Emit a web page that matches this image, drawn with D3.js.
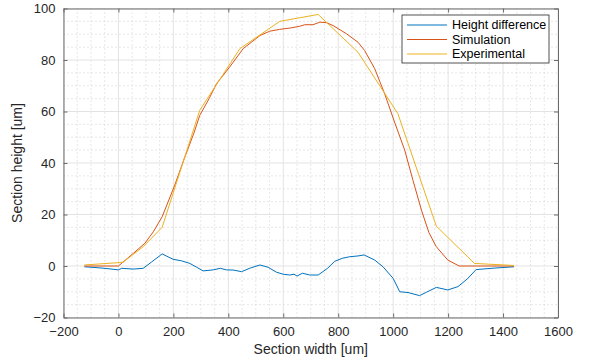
<!DOCTYPE html>
<html lang="en">
<head>
<meta charset="utf-8">
<script src="https://d3js.org/d3.v7.min.js"></script>
<style>
  body { margin: 0; background: #fff; }
  text { font-family: "Liberation Sans", Arial, sans-serif; }
</style>
</head>
<body>
<div id="chart"></div>
<script>
// section width [um] and height [um]
var diffX = [-124, -60, 0, 12, 54, 90, 120, 159, 199, 230, 260, 285, 308, 345, 371, 393, 420, 448, 480, 515, 545, 575, 600, 624, 639, 650, 670, 696, 727, 760, 787, 815, 842, 872, 894, 933, 963, 1000, 1024, 1054, 1096, 1121, 1157, 1199, 1236, 1270, 1302, 1370, 1440];
var diffY = [-0.3, -0.8, -1.5, -0.9, -1.2, -0.9, 1.5, 4.7, 2.6, 2.0, 1.0, -0.5, -1.9, -1.5, -0.9, -1.5, -1.6, -2.2, -0.8, 0.4, -0.5, -2.4, -3.2, -3.5, -3.2, -3.9, -2.8, -3.5, -3.5, -1.0, 1.8, 3.0, 3.6, 3.9, 4.3, 2.3, -0.3, -4.8, -10, -10.3, -11.5, -10.2, -8.3, -9.3, -8.0, -5.0, -1.4, -0.8, -0.3];

var simX = [-124, 0, 54, 96, 127, 159, 205, 242, 276, 296, 330, 357, 405, 454, 515, 551, 587, 624, 660, 678, 708, 733, 757, 781, 830, 872, 896, 933, 969, 1005, 1042, 1072, 1103, 1130, 1157, 1199, 1240, 1302, 1440];
var simY = [0, 0, 4.9, 8.8, 13.3, 19.1, 31.4, 42.4, 52, 58.5, 65, 70.8, 77.3, 84.4, 89.5, 91.2, 91.9, 92.4, 93.1, 93.7, 93.7, 94.7, 94.5, 93.4, 90.2, 86.9, 83.7, 76.6, 66.9, 55.9, 45, 33.3, 21.7, 13, 7.5, 2.3, 0, 0, 0];

var expX = [-124, 0, 17, 90, 159, 296, 442, 587, 727, 872, 1017, 1157, 1296, 1440];
var expY = [0.4, 1.3, 1.5, 7.5, 15, 60.5, 84.4, 95, 97.7, 83, 59.2, 15.5, 1, 0.2];

var seriesNames = ["Height difference", "Simulation", "Experimental"];
var seriesColors = ["#0072BD", "#D95319", "#EDB120"];

var xTicks = [-200, 0, 200, 400, 600, 800, 1000, 1200, 1400, 1600];
var yTicks = [-20, 0, 20, 40, 60, 80, 100];

var width = 589, height = 363;
var margin = {left: 63.5, top: 8.5, right: 31, bottom: 45.5};

var x = d3.scaleLinear().domain([-200, 1600]).range([margin.left, width - margin.right]);
var y = d3.scaleLinear().domain([-20, 100]).range([height - margin.bottom, margin.top]);

var svg = d3.select("#chart").append("svg")
    .attr("width", width)
    .attr("height", height);

// minor grid
svg.append("g").selectAll("line")
    .data(d3.range(-150, 1600, 50).filter(function(d) { return d % 200 !== 0; }))
    .enter().append("line")
    .attr("x1", function(d) { return x(d); })
    .attr("x2", function(d) { return x(d); })
    .attr("y1", y(-20)).attr("y2", y(100))
    .attr("stroke", "#cfcfcf").attr("stroke-dasharray", "1,3");

svg.append("g").selectAll("line")
    .data(d3.range(-15, 100, 5).filter(function(d) { return d % 20 !== 0; }))
    .enter().append("line")
    .attr("y1", function(d) { return y(d); })
    .attr("y2", function(d) { return y(d); })
    .attr("x1", x(-200)).attr("x2", x(1600))
    .attr("stroke", "#cfcfcf").attr("stroke-dasharray", "1,3");

// major grid
svg.append("g").selectAll("line")
    .data(xTicks)
    .enter().append("line")
    .attr("x1", function(d) { return x(d); })
    .attr("x2", function(d) { return x(d); })
    .attr("y1", y(-20)).attr("y2", y(100))
    .attr("stroke", "#e3e3e3");

svg.append("g").selectAll("line")
    .data(yTicks)
    .enter().append("line")
    .attr("y1", function(d) { return y(d); })
    .attr("y2", function(d) { return y(d); })
    .attr("x1", x(-200)).attr("x2", x(1600))
    .attr("stroke", "#e3e3e3");

// axes, ticks pointing inward like matlab
function styleAxis(g) {
    g.select(".domain").attr("stroke", "#6b6b6b");
    g.selectAll(".tick line").attr("stroke", "#6b6b6b");
    g.selectAll(".tick text").attr("fill", "#262626").attr("font-size", "13px");
}

var fmt = d3.format("d");

svg.append("g")
    .attr("transform", "translate(0," + y(-20) + ")")
    .call(d3.axisBottom(x).tickValues(xTicks).tickFormat(fmt).tickSizeInner(-4).tickSizeOuter(0).tickPadding(9))
    .call(styleAxis);

svg.append("g")
    .attr("transform", "translate(0," + y(100) + ")")
    .call(d3.axisTop(x).tickValues(xTicks).tickSizeInner(-4).tickSizeOuter(0).tickFormat(""))
    .call(styleAxis);

svg.append("g")
    .attr("transform", "translate(" + x(-200) + ",0)")
    .call(d3.axisLeft(y).tickValues(yTicks).tickFormat(fmt).tickSizeInner(-4).tickSizeOuter(0).tickPadding(8))
    .call(styleAxis);

svg.append("g")
    .attr("transform", "translate(" + x(1600) + ",0)")
    .call(d3.axisRight(y).tickValues(yTicks).tickSizeInner(-4).tickSizeOuter(0).tickFormat(""))
    .call(styleAxis);

// lines
var line = d3.line()
    .x(function(d) { return x(d[0]); })
    .y(function(d) { return y(d[1]); });

var series = [d3.zip(diffX, diffY), d3.zip(simX, simY), d3.zip(expX, expY)];

svg.append("g").selectAll("path")
    .data(series)
    .enter().append("path")
    .attr("d", line)
    .attr("fill", "none")
    .attr("stroke", function(d, i) { return seriesColors[i]; })
    .attr("stroke-width", 1)
    .attr("stroke-linejoin", "round");

// axis labels
svg.append("text")
    .attr("x", (x(-200) + x(1600)) / 2)
    .attr("y", 354)
    .attr("text-anchor", "middle")
    .attr("font-size", "14px")
    .attr("fill", "#262626")
    .text("Section width [um]");

svg.append("text")
    .attr("transform", "translate(22," + (y(-20) + y(100)) / 2 + ") rotate(-90)")
    .attr("text-anchor", "middle")
    .attr("font-size", "14px")
    .attr("fill", "#262626")
    .text("Section height [um]");

// legend
var legend = svg.append("g").attr("transform", "translate(402,15)");
legend.append("rect")
    .attr("width", 147).attr("height", 48)
    .attr("fill", "#fff").attr("stroke", "#262626").attr("stroke-width", 0.8);

var item = legend.selectAll(".item")
    .data(seriesNames)
    .enter().append("g")
    .attr("class", "item")
    .attr("transform", function(d, i) { return "translate(0," + (10 + i * 14.5) + ")"; });

item.append("line")
    .attr("x1", 5).attr("x2", 45)
    .attr("stroke", function(d, i) { return seriesColors[i]; })
    .attr("stroke-width", 1);

item.append("text")
    .attr("x", 50)
    .attr("dy", "0.35em")
    .attr("font-size", "12.5px")
    .attr("fill", "#000")
    .text(function(d) { return d; });
</script>
</body>
</html>
